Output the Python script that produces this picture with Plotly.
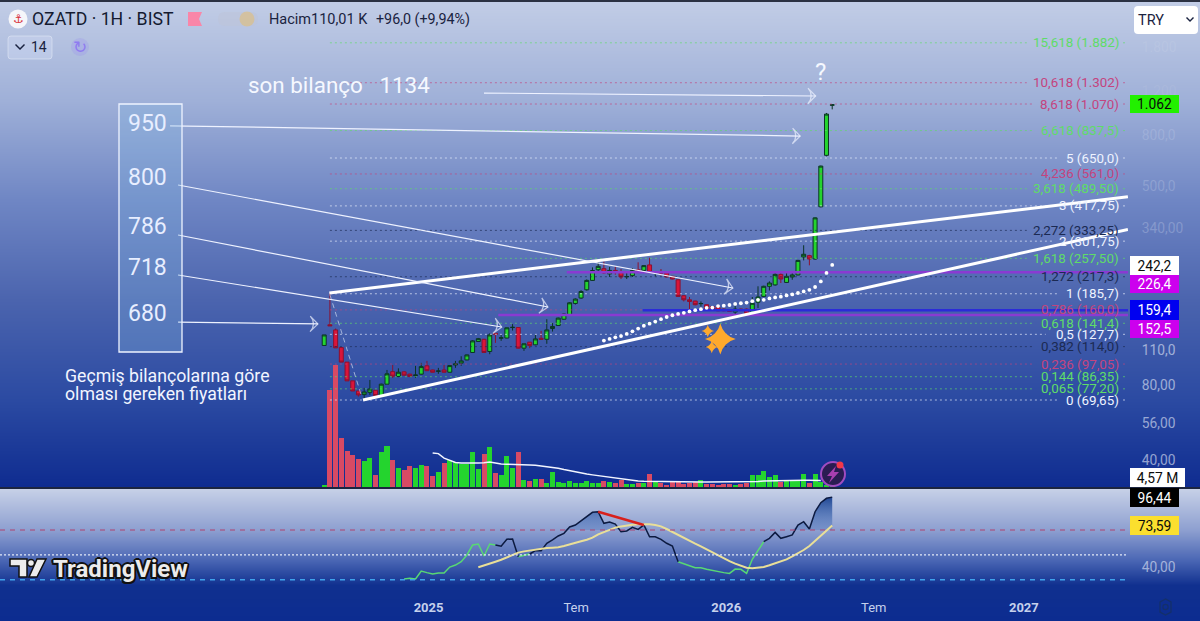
import math
import pandas as pd
import plotly.graph_objects as go

# ---------- data ----------
first_week = "2024-08-26"
opens = [115.2,139.4,133,113,98.8,83.1,75.7,73.2,74.8,76.2,72.6,80.6,90.5,86.5,90.3,88.4,87.3,88.4,95.5,91.9,
         90.8,91.9,90,96.2,97.9,100.8,108,119.5,122,109,128.9,123.3,123.4,135.9,136,112.4,118.8,115.9,123.1,122,
         134.7,138.5,146.8,153.3,169.8,178.5,192.6,210,231.7,234,222.9,230.3,227.6,217.2,219.5,231.7,230.3,242.3,226.5,226.2,
         225,218.1,211.3,182.4,175.6,173.6,169.4,167.8,165,163.4,161.1,160.1,156.9,161.1,161.1,154.2,171.7,181.2,198.9,201.5,
         222.1,206.1,216.8,220.9,260.9,264,255.9,414.3,666.2,1058]
highs = [127,187,134.7,113,98.8,83.1,75.7,77.9,83.8,76.2,81,91.9,96.2,93.3,90.8,88.8,95.4,98.1,99.9,92.2,
         93.7,96.2,96,99.9,104.3,106,121,123.5,122.5,128.9,129,127,136,140.3,136.5,117.2,119,127,131.8,146.8,
         141.6,149,155,172,178,192,212,236.9,248.2,250.4,237.8,239.1,233.3,225,235.5,248.2,242,258.9,228,233.3,
         226,219,212,183,180.2,174,173,168.5,165.5,164,162,160.5,166.5,162,162,180.2,198.9,200,208.2,226.2,
         226.2,226.2,226.2,254,290.5,266,376,606,985,1064]
lows = [115.2,138.2,112.7,98.8,83.1,75.7,71.9,70.3,73,71.4,72.6,80.6,85.3,86,87.2,86,85.3,88,91,89.8,
        88.7,89.5,89.8,93.7,95.5,100.5,107.8,119,107.8,106.3,118,120.2,123,132.2,112,109.6,112.4,115.5,121.3,117,
        131,138,146,152,168,177,191,209,228,222.9,216.8,221.5,212.7,212.7,216.8,227,229,225,218.1,219.5,
        216,212,180.5,173,157.7,167,165,161,161.5,158,158,157,151,159.5,153.5,153,162.8,180,191.4,200,
        205,205,211.3,220,252.6,241.4,254,412,660,1018]
closes = [127,138.2,112.7,98.8,83.1,75.7,73,75,77.1,72.6,80.6,88.7,86.8,90,87.6,86.5,87.7,94.8,91.3,90,
          91,90,95.7,97.2,99.9,105.6,120.2,122.7,108,127,127.8,123.6,135.6,136.2,112.4,117,115.2,122.4,122,133,
          137.3,148.3,153.9,170.8,176.8,189.6,210,230.1,239.1,225,230.3,226.2,216.8,217.6,230.3,228.2,240.7,226.2,227,224.2,
          216.8,212.7,181.2,175.6,173,167.8,169.7,161.6,162,158.7,158.7,157.7,161.1,160.1,154.2,170.1,180.2,198.9,205,222.1,
          212.7,218.1,220.9,252.6,267.3,255.9,374.1,603.3,975,1062]
volumes = [0.8,45.5,57.3,23.1,16.8,15.1,13.3,12.1,13.8,5.7,16.3,19.5,12.9,9.1,7.9,10,8.8,10.4,9.7,5.3,
           7.2,11.3,12.6,11.8,10.7,10.7,16.5,8.3,15.7,18.8,6.6,5.7,14.4,9.1,16.5,3.5,2.7,3.9,3.6,1.9,
           6.9,2.5,2,2.8,2,2,2.8,2,2,2.8,2.4,1.9,3.5,1.3,1.6,1.9,1.9,6.3,2.4,2,
           1.1,2.2,2.2,1.4,2,2.2,3.1,1.4,1.6,1.1,1.4,1.6,1.1,1.4,1.9,5.8,5.5,7.4,4.7,5.8,
           2.4,3.5,3.1,2.8,6.3,1.9,6.3,2.4,1.1,0.11]
volume_ma_from = 19
volume_ma = [16,15.7,13.6,12.4,11.5,11.3,11.2,11.3,11.3,11.4,11.8,11.3,10.8,10.7,10.7,10.7,10.6,10.4,10.2,9.9,
             9.7,9.4,8.8,8.2,7.6,7,6.5,6.1,5.7,5.3,4.9,4.6,4.2,3.8,3.4,2.9,2.8,2.7,2.7,2.7,
             2.6,2.6,2.5,2.5,2.4,2.4,2.4,2.4,2.3,2.3,2.3,2.3,2.3,2.3,2.3,2.3,2.5,2.6,2.8,2.9,
             3,3,3.1,3.1,3.1,3.2,3.2,3.1,3.1]
sar_from = 49
sar = [120.5,122.4,124.2,125.6,128.2,131.3,134.7,138.2,140.9,143.7,146.8,149.8,152.3,154.2,155.7,157.7,159.6,161.1,163.1,163.4,
       165.8,166.3,167.4,169,170.1,171.1,173.4,175.6,175.6,177.8,179.5,180.7,182.9,184.6,187,189.7,192.6,197.6,208,225,242.2]
rsi_from = 14
rsi = [30.6,31.1,30.6,37,35.7,34.6,35.4,35.4,40.2,41.8,44.5,49.9,57.9,58.7,49.1,58.7,57.9,56.9,62.5,62.8,
       48.5,49.9,50.7,53.4,53.4,59.3,62,65.2,67.3,72.4,74,77.5,81.3,84.2,84.7,75.4,76.4,74.8,68.7,69.2,
       72.1,70.5,74,64.6,64.6,62.5,59.3,57.1,44.5,42.6,41.3,39.7,39.7,38.4,37.3,36.5,35.7,35.1,38.6,38.4,
       35.1,46.4,53.9,60.6,63.3,68.1,63.3,64.6,66,74,76.7,70.8,84.7,92,95.5,96.44]
rsi_green_runs = [(14, 27), (28, 30), (34, 36), (62, 77)]
rsi_ma_from = 27
rsi_ma = [40,41.3,42.9,44.5,46.1,48,49.9,51.8,52.8,53.6,54.4,55.3,55.5,55.8,56.1,57.1,58.2,59.5,60.9,62.2,
          63.8,66.5,68.4,70.3,71.9,72.9,73.8,74.3,74.6,74.8,74.6,74,72.9,70.8,68.4,65.7,63.3,61.2,59,56.9,
          54.4,52,49.6,47.2,45,42.9,41.3,39.7,39.2,39.4,40.2,41.6,43.2,44.8,46.4,48.8,51.2,53.9,57.1,61.2,
          65.2,69.5,73.59]

fib_labels = ["15,618 (1.882)","10,618 (1.302)","8,618 (1.070)","6,618 (837,5)","5 (650,0)","4,236 (561,0)",
              "3,618 (489,50)","3 (417,75)","2,272 (333,25)","2 (301,75)","1,618 (257,50)","1,272 (217,3)",
              "1 (185,7)","0,786 (160,0)","0,618 (141,4)","0,5 (127,7)","0,382 (114,0)","0,236 (97,05)",
              "0,144 (86,35)","0,065 (77,20)","0 (69,65)"]
fib_prices = [1882,1302,1070,837.5,650,561,489.5,417.75,333.25,301.75,257.5,217.3,185.7,160,141.4,127.7,114,97.05,86.35,77.2,69.65]
fib_kinds = "gppgwpgwdwgdwpgwdpggw"

price_ticks = [40,56,80,110,340,500,800,1200,1800]
price_tick_text = ["40,00","56,00","80,00","110,0",
                   '<span style="color:rgba(232,238,250,0.42)">340,00</span>',
                   '<span style="color:rgba(232,238,250,0.36)">500,0</span>',
                   '<span style="color:rgba(232,238,250,0.3)">800,0</span>',
                   '<span style="color:#adbbdc">1.200</span>',
                   '<span style="color:#bcc8e3">1.800</span>']
time_ticks = ["2025-01-01","2025-07-01","2026-01-01","2026-07-01","2027-01-01"]
time_text = ["<b>2025</b>","Tem","<b>2026</b>","Tem","<b>2027</b>"]

# (level price, first bar, colour)
purple_levels = [(226.4, 42.5), (152.5, 30.5)]
blue_level = (159.4, 55.8)
upper_channel = ([0.9, 140.8], [187, 455])
lower_channel = ([6.8, 140.8], [69.65, 336.4])
drop_leg = ([1, 6.6], [184, 71.5])
note_arrows = [([-27, 83.4], [875, 796]), ([-25.6, 71.6], [506.5, 195.8]), ([-25.6, 39.2], [319.4, 164.3]),
               ([-25.6, 31.1], [220.8, 136.6]), ([-25.6, -1.1], [143, 140.5]), ([28, 86.1], [1184, 1152])]
sparkle = ([69.4, 67.2, 67.9], [122.3, 131.7, 113.6], [22, 9, 9])
rsi_divergence = ([48, 56], [84.7, 74])

# ---------- layout helpers ----------
W, H = 1200, 621
BAR0_PX, BAR_PX = 324.2, 5.708
PLOT_R = 1128
P0, P_PER_PX = 69.65, 108.35
t0 = pd.Timestamp(first_week)
def bar_date(i):
    return t0 + pd.Timedelta(days=7 * i)
def px_bar(px):
    return (px - BAR0_PX) / BAR_PX
def fx(px):
    return px / W
def fy(py):
    return 1 - py / H
dates = [bar_date(i) for i in range(len(closes))]
x_range = [bar_date(px_bar(0)), bar_date(px_bar(PLOT_R))]
y_top = math.log10(P0) + 400 / P_PER_PX / math.log(10)
y_bot = math.log10(P0) - 87 / P_PER_PX / math.log(10)

GREEN, RED = "#24d42e", "#d9153a"
fib_color = {"g": "#5fdc68", "p": "#c4447f", "w": "#eef3ff", "d": "#1b2a52"}
fig = go.Figure()

# background gradient
stops = [(0, "#c2cde6"), (100, "#9fb0d8"), (200, "#6f86c4"), (300, "#4b64ae"), (400, "#2b4aa2"), (486, "#0f2c90"),
         (487, "#1c2540"), (488, "#1c2540"), (489, "#c6d0e7"), (530, "#8d9fd0"), (560, "#4a66b4"), (585, "#10308f"), (620, "#0c2c90")]
fig.add_trace(go.Heatmap(z=[[r] for r in range(H)], colorscale=[[a / 620, c] for a, c in stops], zmin=0, zmax=620,
                         showscale=False, hoverinfo="skip", xaxis="x", yaxis="y"))

# volume
bar_colors = [GREEN if c >= o else "#d84a64" for o, c in zip(opens, closes)]
fig.add_trace(go.Bar(x=dates, y=volumes, marker=dict(color=bar_colors, line_width=0), width=7 * 86400000 * 0.88,
                     xaxis="x2", yaxis="y2"))
fig.add_trace(go.Scatter(x=[bar_date(volume_ma_from + k) for k in range(len(volume_ma))], y=volume_ma, mode="lines",
                         line=dict(color="#f2f5ff", width=1.5), xaxis="x2", yaxis="y2"))

# fib levels
annos = []
for lab, p, k in zip(fib_labels, fib_prices, fib_kinds):
    w = len(lab) * 6.3
    end = px_bar(1120 - w - 5)
    fig.add_trace(go.Scatter(x=[bar_date(1), bar_date(end), None, bar_date(px_bar(1123)), bar_date(px_bar(1127))],
                             y=[p, p, None, p, p], mode="lines",
                             line=dict(color=fib_color[k], width=1, dash="2px,3px"), opacity=0.65,
                             xaxis="x2", yaxis="y4"))
    annos.append(dict(x=fx(1121), xref="paper", y=math.log10(p), yref="y4", text=lab, showarrow=False, xanchor="right",
                      yanchor="middle", font=dict(family="Roboto", size=13.4, color=fib_color[k])))

for p, b in purple_levels:
    fig.add_trace(go.Scatter(x=[bar_date(b), x_range[1]], y=[p, p], mode="lines", line=dict(color="#8a3ad2", width=2.5),
                             xaxis="x2", yaxis="y4"))
fig.add_trace(go.Scatter(x=[bar_date(blue_level[1]), x_range[1]], y=[blue_level[0]] * 2, mode="lines",
                         line=dict(color="#2b2bd8", width=2.5), xaxis="x2", yaxis="y4"))

# candles
fig.add_trace(go.Candlestick(x=dates, open=opens, high=highs, low=lows, close=closes, xaxis="x2", yaxis="y4",
                             increasing=dict(line=dict(color="#0b3526", width=1), fillcolor=GREEN),
                             decreasing=dict(line=dict(color="#8c1030", width=1), fillcolor=RED),
                             whiskerwidth=0))

# trend channel and notes
for xs, ys in (upper_channel, lower_channel):
    fig.add_trace(go.Scatter(x=[bar_date(i) for i in xs], y=ys, mode="lines", line=dict(color="white", width=3),
                             xaxis="x2", yaxis="y4"))
fig.add_trace(go.Scatter(x=[bar_date(i) for i in drop_leg[0]], y=drop_leg[1], mode="lines",
                         line=dict(color="rgba(205,216,240,0.7)", width=1, dash="5px,4px"), xaxis="x2", yaxis="y4"))
fig.add_trace(go.Scatter(x=[bar_date(i) for i in range(sar_from, sar_from + len(sar))], y=sar, mode="markers",
                         marker=dict(color="white", size=3.8), xaxis="x2", yaxis="y4"))
for xs, ys in note_arrows:
    fig.add_trace(go.Scatter(x=[bar_date(i) for i in xs], y=ys, mode="lines+markers",
                             line=dict(color="#eef2ff", width=1.2),
                             marker=dict(symbol="arrow-wide-open", size=[0, 11], angleref="previous", color="#eef2ff",
                                         line=dict(color="#eef2ff", width=1.2)),
                             xaxis="x2", yaxis="y4"))
fig.add_trace(go.Scatter(x=[bar_date(i) for i in sparkle[0]], y=sparkle[1], mode="markers",
                         marker=dict(symbol="star-diamond", color="#ffa92c", size=sparkle[2], line_width=0, opacity=1),
                         xaxis="x2", yaxis="y4"))

# RSI panel
rsi_x = [bar_date(rsi_from + k) for k in range(len(rsi))]
fig.add_trace(go.Scatter(x=rsi_x, y=[70] * len(rsi), mode="lines", line=dict(width=0, color="rgba(0,0,0,0)"), xaxis="x3", yaxis="y3"))
fig.add_trace(go.Scatter(x=rsi_x, y=[max(v, 70) for v in rsi], mode="lines", line=dict(width=0, color="rgba(0,0,0,0)"),
                         fill="tonexty",
                         fillgradient=dict(type="vertical", colorscale=[[0, "rgba(50,100,180,0.25)"], [1, "rgba(25,65,145,0.95)"]]),
                         xaxis="x3", yaxis="y3"))
is_green = [any(a <= rsi_from + k <= b for a, b in rsi_green_runs) for k in range(len(rsi))]
is_dark = [(not g) or (k + 1 < len(rsi) and not is_green[k + 1]) or (k > 0 and not is_green[k - 1]) for k, g in enumerate(is_green)]
fig.add_trace(go.Scatter(x=rsi_x, y=[v if g else None for v, g in zip(rsi, is_green)], mode="lines",
                         line=dict(color="#58d874", width=1.5), xaxis="x3", yaxis="y3"))
fig.add_trace(go.Scatter(x=rsi_x, y=[v if d else None for v, d in zip(rsi, is_dark)], mode="lines",
                         line=dict(color="#0c1a40", width=1.5), xaxis="x3", yaxis="y3"))
fig.add_trace(go.Scatter(x=[bar_date(rsi_ma_from + k) for k in range(len(rsi_ma))], y=rsi_ma, mode="lines",
                         line=dict(color="#e9df98", width=2), xaxis="x3", yaxis="y3"))
fig.add_trace(go.Scatter(x=[bar_date(i) for i in rsi_divergence[0]], y=rsi_divergence[1], mode="lines",
                         line=dict(color="#d8201c", width=2.5), xaxis="x3", yaxis="y3"))

# ---------- text ----------
def txt(x, y, s, size, color="white", anchor="left", family="Roboto", **kw):
    off = -2 if anchor == "left" else 0
    annos.append(dict(x=fx(x + off), y=fy(y), xref="paper", yref="paper", text=s, showarrow=False, xanchor=anchor, yanchor="middle",
                      font=dict(family=family, size=size, color=color, **kw)))
def tag(y0, y1, s, bg, fg, x0=1130, x1=1179):
    annos.append(dict(x=fx(x0), y=fy((y0 + y1) / 2), xref="paper", yref="paper", text=s, showarrow=False, xanchor="left", yanchor="middle",
                      width=x1 - x0, height=y1 - y0, bgcolor=bg, align="center", valign="middle", borderpad=0, borderwidth=0,
                      font=dict(family="Roboto", size=13.8, color=fg)))

txt(32, 19, "OZATD · 1H · BIST", 17.7, "#141a30")
txt(269, 19, "Hacim110,01 K", 14.5, "#1a2340")
txt(376, 19, "+96,0 (+9,94%)", 14.3, "#1a2340")
txt(31, 47, "14", 14, "#1a2340")
txt(1138, 20, "TRY", 14.5, "#1a2340")
txt(248, 85, "son bilanço   1134", 22.4, "#f5f8ff")
txt(820, 72, "?", 24, "#f5f8ff", "center")
for y, s in [(123, "950"), (178, "800"), (226, "786"), (268, "718"), (313, "680")]:
    txt(147, y, s, 23, "#e8eeff", "center")
txt(65, 376, "Geçmiş bilançolarına göre", 17.7, "#f2f5ff")
txt(65, 394, "olması gereken fiyatları", 17.7, "#f2f5ff")
txt(53, 569, "<b>TradingView</b>", 24, "#ececec", shadow="1.5px 1.5px 0 #111, -1.5px -1.5px 0 #111, 1.5px -1.5px 0 #111, -1.5px 1.5px 0 #111, 0 2px 0 #111, 2px 0 0 #111, -2px 0 0 #111, 0 -2px 0 #111")
txt(18, 19, "⚓", 12, "#d9303a", "center", "DejaVu Sans")
txt(80, 47, "↻", 17, "#8f7cf0", "center", "DejaVu Sans")

tag(95, 113, "1.062", "#22f000", "#0b0b0b")
tag(256, 275, "242,2", "#ffffff", "#0b0b0b")
tag(275, 293, "226,4", "#cc00ee", "#ffffff")
tag(300, 320, "159,4", "#0000f0", "#ffffff")
tag(320, 338, "152,5", "#cc00ee", "#ffffff")
tag(468, 487, "4,57 M", "#ffffff", "#0b0b0b", 1130, 1185)
tag(488, 507, "96,44", "#000000", "#ffffff")
tag(516, 535, "73,59", "#fbdf2e", "#0b0b0b")

# ---------- decoration ----------
def rr(x0, y0, x1, y1, r=3):
    a, b, c, d = fx(x0), fy(y0), fx(x1), fy(y1)
    rx, ry = r / W, r / H
    return (f"M{a+rx},{b} L{c-rx},{b} Q{c},{b} {c},{b-ry} L{c},{d+ry} Q{c},{d} {c-rx},{d} "
            f"L{a+rx},{d} Q{a},{d} {a},{d+ry} L{a},{b-ry} Q{a},{b} {a+rx},{b} Z")
def poly(pts):
    return "M" + " L".join(f"{fx(x)},{fy(y)}" for x, y in pts) + " Z"
def pshape(path, fill, line="rgba(0,0,0,0)", width=0, layer="above"):
    return dict(type="path", path=path, xref="paper", yref="paper", fillcolor=fill, line=dict(color=line, width=width), layer=layer)
def circ(cx, cy, r, fill, line="rgba(0,0,0,0)", width=0):
    return dict(type="circle", xref="paper", yref="paper", x0=fx(cx - r), x1=fx(cx + r), y0=fy(cy + r), y1=fy(cy - r),
                fillcolor=fill, line=dict(color=line, width=width), layer="above")
shapes = [
    dict(type="rect", xref="paper", yref="paper", x0=0, x1=1, y0=fy(2), y1=1, fillcolor="#2b3142", line_width=0, layer="above"),
    circ(18, 19, 9.5, "#f5f6fa"),
    pshape(poly([(188, 12), (202, 12), (199, 19), (202, 26), (188, 26)]), "#f986a8"),
    pshape(rr(218, 12, 258, 26, 7), "rgba(190,196,215,0.5)"),
    circ(247, 19, 7.5, "rgba(225,190,120,0.6)"),
    pshape(rr(8, 36, 52, 59, 3), "rgba(200,212,238,0.55)", "rgba(225,232,245,0.6)", 1),
    pshape(poly([(15, 45), (20, 50), (25, 45), (24, 44), (20, 48), (16, 44)]), "#1a2340"),
    circ(80, 47, 9, "rgba(150,140,240,0.25)"),
    pshape(rr(1134, 6, 1198, 34, 4), "#ffffff"),
    pshape(poly([(1186, 18), (1190, 22), (1194, 18), (1193, 17), (1190, 20), (1187, 17)]), "#1a2340"),
    pshape(rr(119, 104, 182, 352, 0), "rgba(130,180,225,0.32)", "#eef3ff", 1.3),
    circ(833, 474, 12, "#2a1c52", "#a04cc0", 2),
    pshape(poly([(836, 466), (827, 476), (832, 476), (829, 483), (839, 472), (834, 472)]), "#a83fb0"),
    circ(840, 465, 3.5, "#f0384a"),
    pshape(poly([(10, 559), (27, 559), (27, 577), (19, 577), (19, 566), (10, 566)]), "#ececec", "#111111", 1.5),
    circ(31, 563, 3.5, "#ececec", "#111111", 1.5),
    pshape(poly([(37, 559), (46, 559), (37, 577), (29, 577)]), "#ececec", "#111111", 1.5),
    # gear
    pshape(poly([(1160, 602), (1165.5, 599), (1171, 602), (1171, 612), (1165.5, 615), (1160, 612)]), "rgba(0,0,0,0)", "#14306a", 1.3),
    circ(1165.5, 607, 2.6, "rgba(0,0,0,0)", "#14306a", 1.2),
]
for level, col, dash, w in [(70, "#b0436e", "5px,5px", 1.2), (50, "#e3e9f7", "2px,2px", 1.2), (30, "#3fa2ec", "5px,5px", 1.6)]:
    shapes.append(dict(type="line", xref="x3 domain", yref="y3", x0=0, x1=1, y0=level, y1=level, line=dict(color=col, width=w, dash=dash), layer="above"))

ax_off = dict(visible=False, showgrid=False, zeroline=False)
fig.update_layout(
    width=W, height=H, autosize=False, margin=dict(l=0, r=0, t=0, b=0), paper_bgcolor="#0c2c90", plot_bgcolor="rgba(0,0,0,0)",
    showlegend=False, hovermode=False, bargap=0, boxgap=0.15, boxgroupgap=0.18, dragmode=False, shapes=shapes, annotations=annos,
    xaxis=dict(domain=[0, 1], range=[-0.5, 0.5], **ax_off),
    yaxis=dict(domain=[0, 1], range=[H - 0.5, -0.5], **ax_off),
    xaxis2=dict(domain=[0, PLOT_R / W], range=x_range, type="date", anchor="y2", showgrid=False, zeroline=False,
                showticklabels=False, ticks="", rangeslider=dict(visible=False), showline=False),
    yaxis2=dict(domain=[fy(487), 1], range=[0, 229], anchor="x2", **ax_off),
    yaxis4=dict(domain=[fy(487), 1], range=[y_bot, y_top], type="log", overlaying="y2", side="right", anchor="x2", showgrid=False,
                zeroline=False, tickmode="array", tickvals=price_ticks, ticktext=price_tick_text, ticks="outside", ticklen=10,
                tickcolor="rgba(0,0,0,0)", showline=False, tickfont=dict(family="Roboto", size=13.8, color="rgba(232,238,250,0.6)")),
    xaxis3=dict(domain=[0, PLOT_R / W], range=x_range, type="date", anchor="y3", showgrid=False, zeroline=False, showline=False,
                tickmode="array", tickvals=time_ticks, ticktext=time_text, ticks="outside", ticklen=5, tickcolor="rgba(0,0,0,0)",
                tickfont=dict(family="Roboto", size=13, color="#c5d1ec")),
    yaxis3=dict(domain=[fy(590), fy(489)], range=[21.73, 102.98], side="right", anchor="x3", showgrid=False, zeroline=False,
                showline=False, tickmode="array", tickvals=[40], ticktext=["40,00"], ticks="outside", ticklen=10,
                tickcolor="rgba(0,0,0,0)", tickfont=dict(family="Roboto", size=13.8, color="rgba(232,238,250,0.6)")),
)
fig.write_html("out.html", config=dict(displayModeBar=False),
               post_script="document.documentElement.style.overflow='hidden';document.body.style.margin='0';document.body.style.overflow='hidden';")
